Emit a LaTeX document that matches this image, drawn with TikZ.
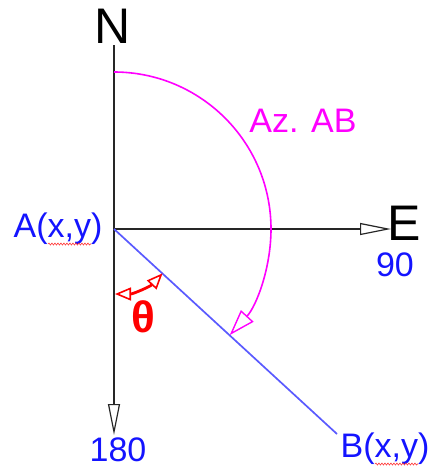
\documentclass[tikz,border=0pt]{standalone}
\usepackage{fontspec}
\setmainfont{Liberation Sans}
\usetikzlibrary{arrows.meta,decorations.pathmorphing}
\definecolor{azcol}{RGB}{255,0,255}
\definecolor{lblue}{RGB}{20,20,255}
\definecolor{lineblue}{RGB}{90,90,255}
\tikzset{
  axis/.style={draw=black!85, line width=1.6pt},
  openarrow/.style={-{Triangle[open,length=31pt,width=12pt,line width=1.2pt]}},
  lbl/.style={inner sep=0pt, text=lblue, font=\fontsize{34}{34}\selectfont},
  big/.style={inner sep=0pt, font=\fontsize{50}{50}\selectfont},
  thetatip/.tip={Triangle[open,length=16pt,width=13pt,line width=1.6pt]},
  squig/.style={draw=red!80, line width=0.6pt, decorate, decoration={snake, amplitude=1pt, segment length=3pt}}
}
\begin{document}
\begin{tikzpicture}[x=1pt,y=-1pt]
\useasboundingbox (0,0) rectangle (433,475);
\coordinate (A) at (114,229);
\coordinate (Ntop) at (114,45);
\coordinate (Etip) at (391,229);
\coordinate (Stip) at (114,435);
\coordinate (Bend) at (337,434);
% axes
\draw[axis] (A) -- (Ntop);
\draw[axis, openarrow] (A) -- (Etip);
\draw[axis, openarrow] (A) -- (Stip);
% line AB
\draw[draw=lineblue, line width=1.7pt] (A) -- (Bend);
% azimuth arc
\draw[draw=azcol, line width=1.6pt, -{Triangle[open,length=26pt,width=17pt,line width=1.4pt]}]
  (114,72) arc[start angle=-90, end angle=42.5, radius=157];
% theta arc
\draw[draw=red, line width=2.8pt, thetatip-thetatip]
  (115,294) arc[start angle=90, end angle=43, radius=65];
% labels
\node[big] (N) at (113,26) {N};
\node[big, anchor=west] (E) at (387,223) {E};
\node[lbl] (n90) at (395,265) {90};
\node[lbl] (n180) at (118,450) {180};
\node[lbl] (Alab) at (58,229) {A(x,y)};
\node[lbl] (Blab) at (385,449) {B(x,y)};
\node[lbl, text=azcol] (Az) at (303,121) {Az. AB};
\node[inner sep=0pt, text=red, font=\bfseries\fontsize{44}{44}\selectfont] (th) at (143,317) {θ};
% spell-check squiggles
\draw[squig] (48,244) -- (91,244);
\draw[squig] (375,464) -- (418,464);
\end{tikzpicture}
\end{document}
